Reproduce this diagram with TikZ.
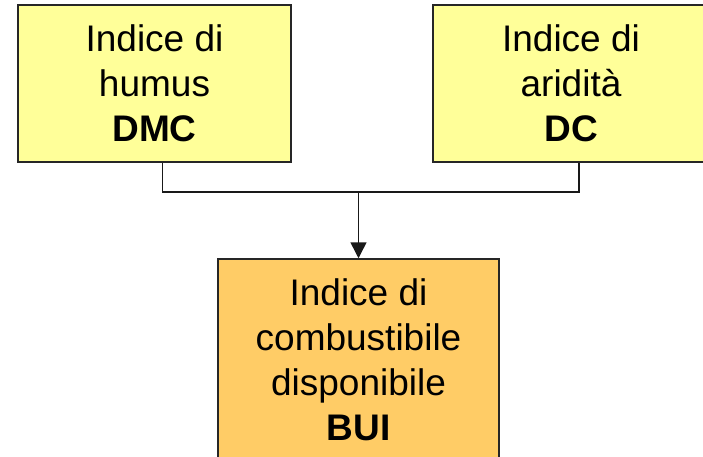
\documentclass[tikz,border=0pt]{standalone}
\usepackage{fontspec}
\setmainfont{Liberation Sans}
\usetikzlibrary{arrows.meta}
\definecolor{boxyellow}{RGB}{255,255,153}
\definecolor{boxorange}{RGB}{255,204,102}

\begin{document}
\begin{tikzpicture}[x=1pt,y=-1pt,
    idx/.style={draw=black!85,line width=1.5pt,align=center,inner sep=0pt,
      font=\fontsize{37}{45}\selectfont},
    link/.style={line width=1.5pt,black!90}]
    \useasboundingbox (0,0) rectangle (703,457);
    \begin{scope}
    \clip (0,0) rectangle (703,457);
    \node[idx,fill=boxyellow,minimum width=273,minimum height=157] (dmc) at (154.5,83.5) {Indice di\\humus\\\textbf{DMC}};
    \node[idx,fill=boxyellow,minimum width=276,minimum height=157] (dc) at (571,83.5) {Indice di\\aridità\\\textbf{DC}};
    \node[idx,fill=boxorange,minimum width=281,minimum height=201] (bui) at (358.5,359.5) {Indice di\\combustibile\\disponibile\\\textbf{BUI}};
    \end{scope}
    \coordinate (mid) at (bui.north |- 0,192);
    \draw[link] ([xshift=8]dmc.south) |- (mid) -| ([xshift=8]dc.south);
    \draw[link,-{Triangle[width=16pt,length=16pt]}] (mid) -- (bui.north);
  \end{tikzpicture}
\end{document}
